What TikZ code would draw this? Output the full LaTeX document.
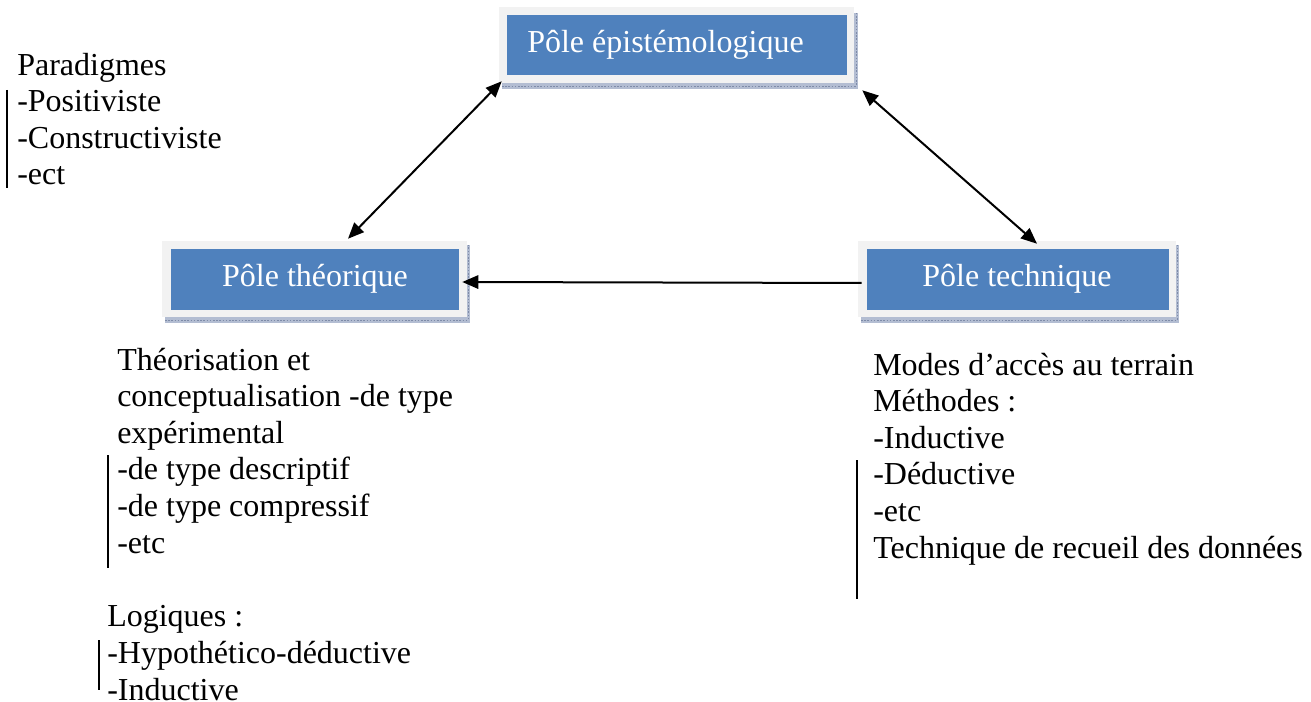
\documentclass[tikz,border=0pt]{standalone}
\usepackage{fontspec}
\setmainfont{Liberation Serif}
\usetikzlibrary{arrows.meta,calc}

\definecolor{poleblue}{HTML}{4F81BD}
\definecolor{poleframe}{HTML}{F2F2F2}
\definecolor{poleshade}{HTML}{B3BDD2}
\definecolor{poleshadeline}{HTML}{7E8BA8}

\tikzset{
  % multi-line notes are placed by the baseline of their last line
  bodytext/.style={font=\fontsize{24}{27.4}\selectfont, inner sep=0pt, align=left, anchor=base west},
  framebox/.style={fill=poleframe, draw=none, inner sep=0pt},
  polebox/.style={fill=poleblue, draw=none, inner sep=0pt},
  poletext/.style={text=white, font=\fontsize{24}{27.4}\selectfont, inner sep=0pt},
  shade/.style={fill=poleshade, draw=none},
  shadetick/.style={draw=poleshadeline, line width=0.6pt, dash pattern=on 1.2pt off 1.2pt},
  link/.style={line width=1.5pt, {Triangle[length=12pt,width=10pt]}-{Triangle[length=12pt,width=10pt]}},
  onelink/.style={line width=1.5pt, -{Triangle[length=12pt,width=10pt]}},
  bar/.style={line width=1.1pt},
}

\begin{document}
\begin{tikzpicture}[x=0.75pt, y=-0.75pt]
  \useasboundingbox (0,0) rectangle (1311,702);

  % shadow strips under the three pole boxes
  \fill[shade] (502,83) rectangle (858,89);
  \fill[shade] (854,13) rectangle (858,89);
  \draw[shadetick] (502,86) -- (856,86) -- (856,13);

  \fill[shade] (165,317) rectangle (470,323);
  \fill[shade] (467,245) rectangle (470,323);
  \draw[shadetick] (165,320) -- (468.5,320) -- (468.5,245);

  \fill[shade] (861,317) rectangle (1179,323);
  \fill[shade] (1176,245) rectangle (1179,323);
  \draw[shadetick] (861,320) -- (1177.5,320) -- (1177.5,245);

  % Pôle épistémologique
  \node[framebox, minimum width={355*0.75pt}, minimum height={76*0.75pt}] (epiF) at (676.5,45) {};
  \node[polebox, minimum width={340*0.75pt}, minimum height={60*0.75pt}] (epi) at (677,45) {};
  \node[poletext, anchor=base west] (epiT) at (527,53) {Pôle épistémologique};

  % Pôle théorique
  \node[framebox, minimum width={305*0.75pt}, minimum height={76*0.75pt}] (theoF) at (314.5,279) {};
  \node[polebox, minimum width={288*0.75pt}, minimum height={61*0.75pt}] (theo) at (315,279.5) {};
  \node[poletext, anchor=base] (theoT) at (315,287) {Pôle théorique};

  % Pôle technique
  \node[framebox, minimum width={318*0.75pt}, minimum height={76*0.75pt}] (techF) at (1017,279) {};
  \node[polebox, minimum width={302*0.75pt}, minimum height={61*0.75pt}] (tech) at (1018,279.5) {};
  \node[poletext, anchor=base] (techT) at (1017,287) {Pôle technique};

  % links between the poles
  \draw[link] ([shift={(3,-2)}]epiF.south west) -- ([shift={(33.5,-2)}]theoF.north);
  \draw[link] ([shift={(8,7)}]epiF.south east) -- ([shift={(20,3)}]techF.north);
  \draw[onelink] ([shift={(4,4)}]techF.west) -- ([shift={(-5,3)}]theoF.east);

  % text blocks
  \node[bodytext] (para) at (17,185) {Paradigmes\\-Positiviste\\-Constructiviste\\-ect};
  \draw[bar] (7,90) -- (7,188);

  \node[bodytext] (theoN) at (117,553) {Théorisation et\\conceptualisation -de type\\expérimental\\-de type descriptif\\-de type compressif\\-etc};
  \draw[bar] (108,455) -- (108,568);

  \node[bodytext] (logi) at (107,700) {Logiques :\\-Hypothético-déductive\\-Inductive};
  \draw[bar] (99,640) -- (99,690);

  \node[bodytext] (techN) at (873,558) {Modes d’accès au terrain\\Méthodes :\\-Inductive\\-Déductive\\-etc\\Technique de recueil des données};
  \draw[bar] (857,460) -- (857,599);
\end{tikzpicture}
\end{document}
